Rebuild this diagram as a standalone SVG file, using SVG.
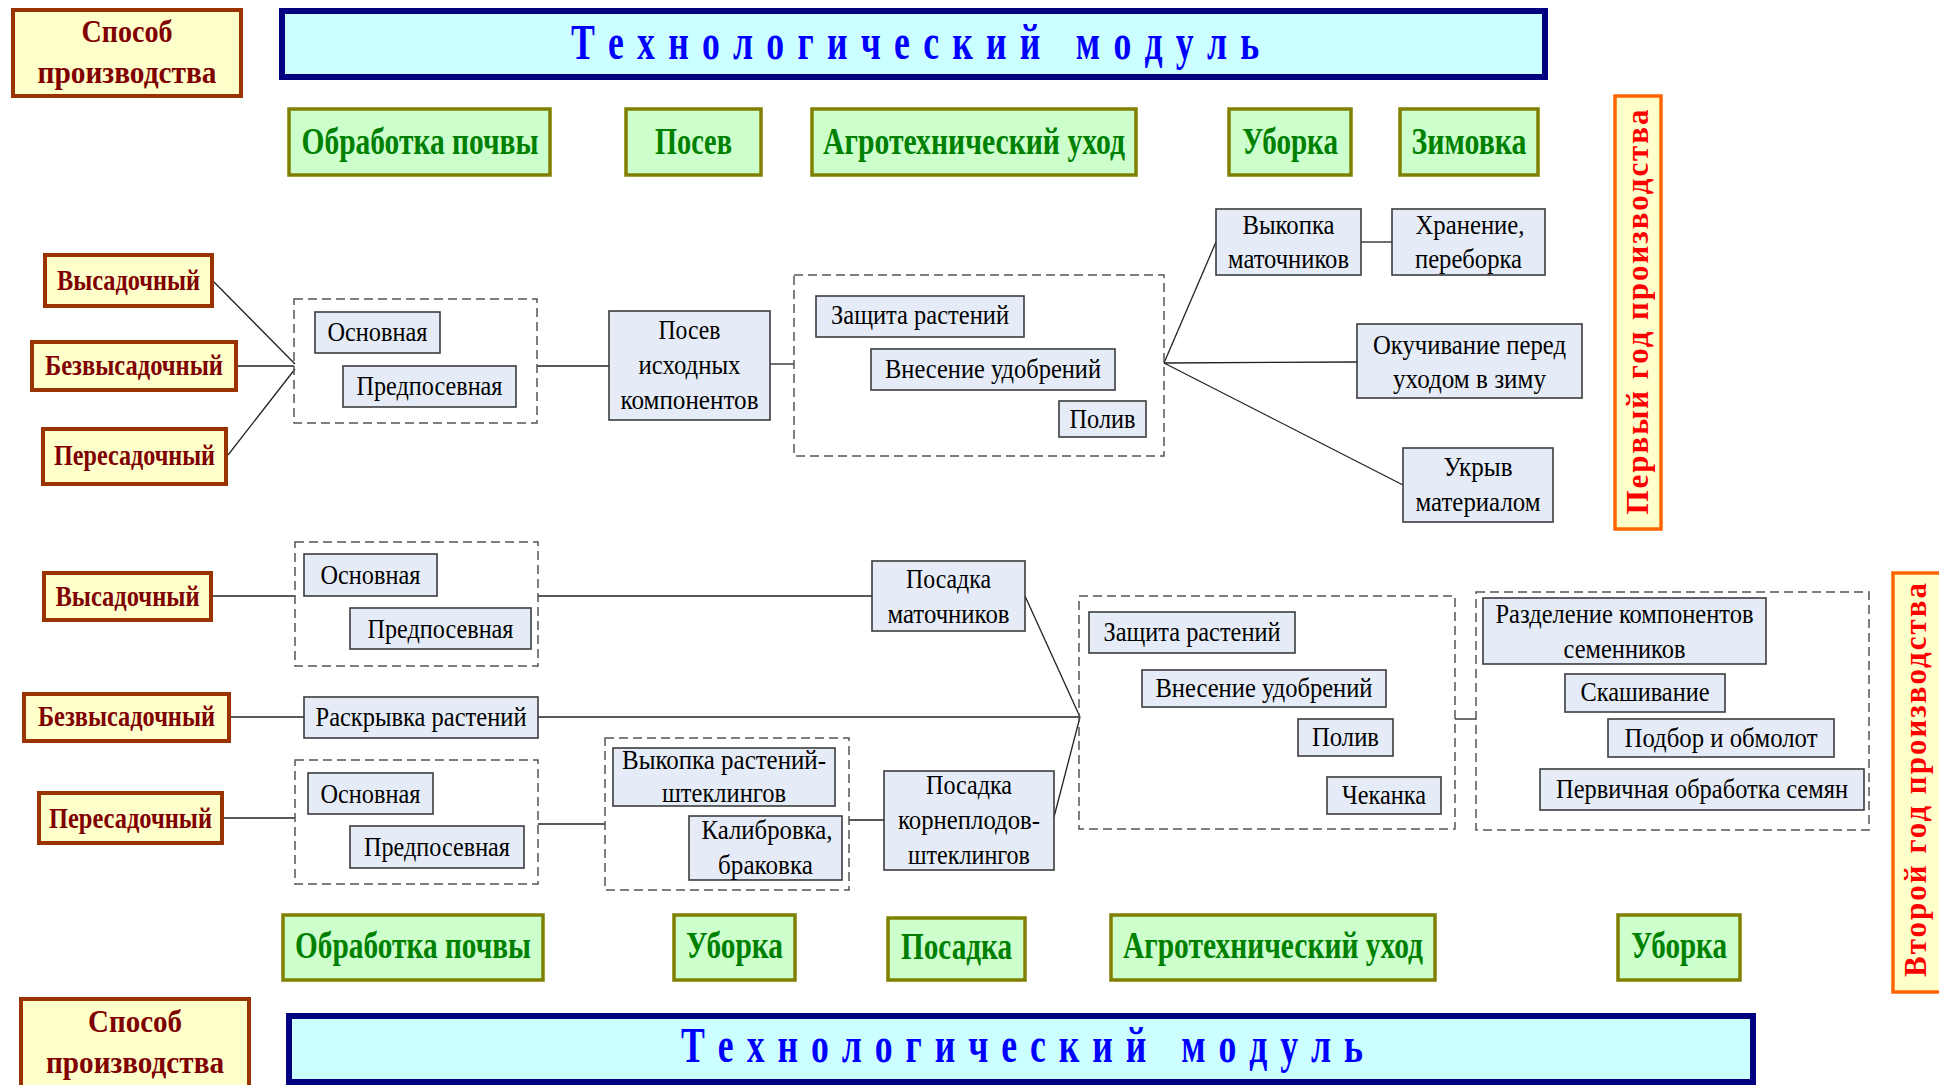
<svg xmlns="http://www.w3.org/2000/svg" width="1939" height="1085" viewBox="0 0 1939 1085">
<style>
.bg{fill:#FFFFFF}
.bb{fill:#FFFFCC;stroke:#993300;stroke-width:4}
.bt{font-family:"Liberation Serif",serif;font-weight:bold;font-size:29px;fill:#800000;text-anchor:middle}
.st{font-family:"Liberation Serif",serif;font-weight:bold;font-size:32px;fill:#800000;text-anchor:middle}
.ban{fill:#CCFFFF;stroke:#000080;stroke-width:6}
.bant{font-family:"Liberation Serif",serif;font-weight:bold;font-size:51px;fill:#0000FF;text-anchor:middle;white-space:pre}
.gb{fill:#CCFFCC;stroke:#808000;stroke-width:3.5}
.gt{font-family:"Liberation Serif",serif;font-weight:bold;font-size:38px;fill:#008000;text-anchor:middle}
.ob{fill:#FFFFCC;stroke:#FF6600;stroke-width:3.5}
.ot{font-family:"Liberation Serif",serif;font-weight:bold;font-size:31px;fill:#FF0000;text-anchor:middle}
.pb{fill:#E6ECF7;stroke:#3C3C3C;stroke-width:1.6}
.pt{font-family:"Liberation Serif",serif;font-size:27.5px;fill:#000000;text-anchor:middle}
.db{fill:none;stroke:#555555;stroke-width:1.5;stroke-dasharray:9 5}
.cn{fill:none;stroke:#222222;stroke-width:1.3}
</style>
<rect class="bg" x="0" y="0" width="1939" height="1085"/>

<g id="connectors">
<line class="cn" x1="214" y1="282" x2="295" y2="364"/>
<line class="cn" x1="238" y1="366" x2="294" y2="366"/>
<line class="cn" x1="228" y1="455" x2="295" y2="369"/>
<line class="cn" x1="537" y1="366" x2="609" y2="366"/>
<line class="cn" x1="770" y1="364" x2="794" y2="364"/>
<line class="cn" x1="1164" y1="363" x2="1216" y2="242"/>
<line class="cn" x1="1164" y1="363" x2="1357" y2="362"/>
<line class="cn" x1="1164" y1="363" x2="1403" y2="485"/>
<line class="cn" x1="1361" y1="242" x2="1392" y2="242"/>
<line class="cn" x1="213" y1="596" x2="295" y2="596"/>
<line class="cn" x1="538" y1="596" x2="872" y2="596"/>
<line class="cn" x1="231" y1="717" x2="304" y2="717"/>
<line class="cn" x1="538" y1="717" x2="1080" y2="717"/>
<line class="cn" x1="224" y1="818" x2="295" y2="818"/>
<line class="cn" x1="538" y1="824" x2="605" y2="824"/>
<line class="cn" x1="849" y1="820" x2="884" y2="820"/>
<line class="cn" x1="1025" y1="596" x2="1080" y2="717"/>
<line class="cn" x1="1054" y1="817" x2="1080" y2="717"/>
<line class="cn" x1="1455" y1="719" x2="1476" y2="719"/>
</g>

<g id="sposob-top">
<rect class="bb" x="13" y="10" width="228" height="86"/>
<text class="st" x="127" y="42" textLength="91" lengthAdjust="spacingAndGlyphs">Способ</text>
<text class="st" x="127" y="83" textLength="179" lengthAdjust="spacingAndGlyphs">производства</text>
</g>
<g id="banner-top">
<rect class="ban" x="282" y="11" width="1263" height="66"/>
<text class="bant" transform="translate(915,59) scale(0.7,1)" x="0" y="0" textLength="983" lengthAdjust="spacing">Т е х н о л о г и ч е с к и й   м о д у л ь</text>
</g>

<g id="g-obrabotka1"><rect class="gb" x="289" y="109" width="261" height="66"/><text class="gt" x="420" y="154" textLength="237" lengthAdjust="spacingAndGlyphs">Обработка почвы</text></g>
<g id="g-posev1"><rect class="gb" x="626" y="109" width="135" height="66"/><text class="gt" x="693.5" y="154" textLength="77" lengthAdjust="spacingAndGlyphs">Посев</text></g>
<g id="g-agro1"><rect class="gb" x="812" y="109" width="324" height="66"/><text class="gt" x="974" y="154" textLength="302" lengthAdjust="spacingAndGlyphs">Агротехнический уход</text></g>
<g id="g-uborka1"><rect class="gb" x="1229" y="109" width="122" height="66"/><text class="gt" x="1290" y="154" textLength="96" lengthAdjust="spacingAndGlyphs">Уборка</text></g>
<g id="g-zimovka1"><rect class="gb" x="1400" y="109" width="138" height="66"/><text class="gt" x="1469" y="154" textLength="115" lengthAdjust="spacingAndGlyphs">Зимовка</text></g>

<g id="year1"><rect class="ob" x="1615" y="96" width="46" height="433"/><text class="ot" transform="translate(1648,312) rotate(-90)" x="0" y="0" textLength="405" lengthAdjust="spacing">Первый год производства</text></g>

<g id="vysad1"><rect class="bb" x="45" y="255" width="167" height="51"/><text class="bt" x="128.5" y="290" textLength="143" lengthAdjust="spacingAndGlyphs">Высадочный</text></g>
<g id="bezvysad1"><rect class="bb" x="32" y="342" width="204" height="48"/><text class="bt" x="134" y="375" textLength="178" lengthAdjust="spacingAndGlyphs">Безвысадочный</text></g>
<g id="peresad1"><rect class="bb" x="43" y="429" width="183" height="55"/><text class="bt" x="134.5" y="465" textLength="161" lengthAdjust="spacingAndGlyphs">Пересадочный</text></g>

<g id="soil1"><rect class="db" x="294" y="299" width="243" height="124"/></g>
<g id="osnov1"><rect class="pb" x="315" y="312" width="125" height="41"/><text class="pt" x="377.5" y="341" textLength="100" lengthAdjust="spacingAndGlyphs">Основная</text></g>
<g id="predpos1"><rect class="pb" x="343" y="366" width="173" height="41"/><text class="pt" x="429.5" y="395" textLength="146" lengthAdjust="spacingAndGlyphs">Предпосевная</text></g>
<g id="posev-ish"><rect class="pb" x="609" y="311" width="161" height="109"/>
<text class="pt" x="689.5" y="339" textLength="62" lengthAdjust="spacingAndGlyphs">Посев</text>
<text class="pt" x="689.5" y="374" textLength="102" lengthAdjust="spacingAndGlyphs">исходных</text>
<text class="pt" x="689.5" y="409" textLength="138" lengthAdjust="spacingAndGlyphs">компонентов</text></g>

<g id="agro1"><rect class="db" x="794" y="275" width="370" height="181"/></g>
<g id="zashch1"><rect class="pb" x="816" y="296" width="208" height="41"/><text class="pt" x="920" y="324" textLength="178" lengthAdjust="spacingAndGlyphs">Защита растений</text></g>
<g id="vnes1"><rect class="pb" x="871" y="349" width="244" height="41"/><text class="pt" x="993" y="378" textLength="216" lengthAdjust="spacingAndGlyphs">Внесение удобрений</text></g>
<g id="poliv1"><rect class="pb" x="1059" y="401" width="87" height="36"/><text class="pt" x="1102.5" y="428" textLength="66" lengthAdjust="spacingAndGlyphs">Полив</text></g>

<g id="vykopka-mat"><rect class="pb" x="1216" y="209" width="145" height="66"/>
<text class="pt" x="1288.5" y="234" textLength="92" lengthAdjust="spacingAndGlyphs">Выкопка</text>
<text class="pt" x="1288.5" y="268" textLength="121" lengthAdjust="spacingAndGlyphs">маточников</text></g>
<g id="hranenie"><rect class="pb" x="1392" y="209" width="153" height="66"/>
<text class="pt" x="1470" y="234" textLength="109" lengthAdjust="spacingAndGlyphs">Хранение,</text>
<text class="pt" x="1468.5" y="268" textLength="107" lengthAdjust="spacingAndGlyphs">переборка</text></g>
<g id="okuch"><rect class="pb" x="1357" y="324" width="225" height="74"/>
<text class="pt" x="1469.5" y="354" textLength="193" lengthAdjust="spacingAndGlyphs">Окучивание перед</text>
<text class="pt" x="1469.5" y="388" textLength="153" lengthAdjust="spacingAndGlyphs">уходом в зиму</text></g>
<g id="ukryv"><rect class="pb" x="1403" y="448" width="150" height="74"/>
<text class="pt" x="1478" y="476" textLength="69" lengthAdjust="spacingAndGlyphs">Укрыв</text>
<text class="pt" x="1478" y="511" textLength="125" lengthAdjust="spacingAndGlyphs">материалом</text></g>

<g id="vysad2"><rect class="bb" x="44" y="573" width="167" height="47"/><text class="bt" x="127.5" y="606" textLength="144" lengthAdjust="spacingAndGlyphs">Высадочный</text></g>
<g id="bezvysad2"><rect class="bb" x="24" y="694" width="205" height="47"/><text class="bt" x="126.5" y="726" textLength="177" lengthAdjust="spacingAndGlyphs">Безвысадочный</text></g>
<g id="peresad2"><rect class="bb" x="39" y="793" width="183" height="50"/><text class="bt" x="130.5" y="828" textLength="163" lengthAdjust="spacingAndGlyphs">Пересадочный</text></g>

<g id="soil2"><rect class="db" x="295" y="542" width="243" height="124"/></g>
<g id="osnov2"><rect class="pb" x="304" y="554" width="133" height="42"/><text class="pt" x="370.5" y="584" textLength="100" lengthAdjust="spacingAndGlyphs">Основная</text></g>
<g id="predpos2"><rect class="pb" x="350" y="608" width="181" height="41"/><text class="pt" x="440.5" y="638" textLength="146" lengthAdjust="spacingAndGlyphs">Предпосевная</text></g>
<g id="raskryvka"><rect class="pb" x="304" y="697" width="234" height="41"/><text class="pt" x="421" y="726" textLength="211" lengthAdjust="spacingAndGlyphs">Раскрывка растений</text></g>
<g id="soil3"><rect class="db" x="295" y="760" width="243" height="124"/></g>
<g id="osnov3"><rect class="pb" x="308" y="773" width="125" height="41"/><text class="pt" x="370.5" y="803" textLength="100" lengthAdjust="spacingAndGlyphs">Основная</text></g>
<g id="predpos3"><rect class="pb" x="350" y="826" width="174" height="42"/><text class="pt" x="437" y="856" textLength="146" lengthAdjust="spacingAndGlyphs">Предпосевная</text></g>

<g id="uborka-sht"><rect class="db" x="605" y="738" width="244" height="152"/></g>
<g id="vykopka-sht"><rect class="pb" x="613" y="748" width="222" height="58"/>
<text class="pt" x="724" y="769" textLength="204" lengthAdjust="spacingAndGlyphs">Выкопка растений-</text>
<text class="pt" x="724" y="802" textLength="124" lengthAdjust="spacingAndGlyphs">штеклингов</text></g>
<g id="kalibr"><rect class="pb" x="689" y="816" width="153" height="64"/>
<text class="pt" x="767" y="839" textLength="131" lengthAdjust="spacingAndGlyphs">Калибровка,</text>
<text class="pt" x="765.5" y="874" textLength="95" lengthAdjust="spacingAndGlyphs">браковка</text></g>

<g id="posadka-mat"><rect class="pb" x="872" y="561" width="153" height="70"/>
<text class="pt" x="948.5" y="588" textLength="85" lengthAdjust="spacingAndGlyphs">Посадка</text>
<text class="pt" x="948.5" y="623" textLength="122" lengthAdjust="spacingAndGlyphs">маточников</text></g>
<g id="posadka-korn"><rect class="pb" x="884" y="771" width="170" height="99"/>
<text class="pt" x="969" y="794" textLength="86" lengthAdjust="spacingAndGlyphs">Посадка</text>
<text class="pt" x="969" y="829" textLength="142" lengthAdjust="spacingAndGlyphs">корнеплодов-</text>
<text class="pt" x="969" y="864" textLength="122" lengthAdjust="spacingAndGlyphs">штеклингов</text></g>

<g id="agro2"><rect class="db" x="1079" y="596" width="376" height="233"/></g>
<g id="zashch2"><rect class="pb" x="1089" y="612" width="206" height="41"/><text class="pt" x="1192" y="641" textLength="177" lengthAdjust="spacingAndGlyphs">Защита растений</text></g>
<g id="vnes2"><rect class="pb" x="1142" y="670" width="244" height="37"/><text class="pt" x="1264" y="697" textLength="217" lengthAdjust="spacingAndGlyphs">Внесение удобрений</text></g>
<g id="poliv2"><rect class="pb" x="1298" y="719" width="95" height="37"/><text class="pt" x="1345.5" y="746" textLength="67" lengthAdjust="spacingAndGlyphs">Полив</text></g>
<g id="chekanka"><rect class="pb" x="1327" y="777" width="114" height="37"/><text class="pt" x="1384" y="804" textLength="84" lengthAdjust="spacingAndGlyphs">Чеканка</text></g>

<g id="uborka2"><rect class="db" x="1476" y="592" width="393" height="238"/></g>
<g id="razdel"><rect class="pb" x="1483" y="598" width="283" height="66"/>
<text class="pt" x="1624.5" y="623" textLength="258" lengthAdjust="spacingAndGlyphs">Разделение компонентов</text>
<text class="pt" x="1624.5" y="658" textLength="122" lengthAdjust="spacingAndGlyphs">семенников</text></g>
<g id="skash"><rect class="pb" x="1565" y="674" width="160" height="38"/><text class="pt" x="1645" y="701" textLength="129" lengthAdjust="spacingAndGlyphs">Скашивание</text></g>
<g id="podbor"><rect class="pb" x="1608" y="719" width="226" height="38"/><text class="pt" x="1721" y="747" textLength="193" lengthAdjust="spacingAndGlyphs">Подбор и обмолот</text></g>
<g id="pervich"><rect class="pb" x="1540" y="769" width="324" height="41"/><text class="pt" x="1702" y="798" textLength="292" lengthAdjust="spacingAndGlyphs">Первичная обработка семян</text></g>

<g id="year2"><rect class="ob" x="1893" y="573" width="56" height="419"/><text class="ot" transform="translate(1926,780) rotate(-90)" x="0" y="0" textLength="394" lengthAdjust="spacing">Второй год производства</text></g>

<g id="g-obrabotka2"><rect class="gb" x="283" y="915" width="260" height="65"/><text class="gt" x="413" y="958" textLength="236" lengthAdjust="spacingAndGlyphs">Обработка почвы</text></g>
<g id="g-uborka2a"><rect class="gb" x="674" y="915" width="121" height="65"/><text class="gt" x="734.5" y="958" textLength="97" lengthAdjust="spacingAndGlyphs">Уборка</text></g>
<g id="g-posadka"><rect class="gb" x="888" y="918" width="137" height="62"/><text class="gt" x="956.5" y="959" textLength="111" lengthAdjust="spacingAndGlyphs">Посадка</text></g>
<g id="g-agro2"><rect class="gb" x="1111" y="915" width="324" height="65"/><text class="gt" x="1273" y="958" textLength="300" lengthAdjust="spacingAndGlyphs">Агротехнический уход</text></g>
<g id="g-uborka2b"><rect class="gb" x="1618" y="915" width="122" height="65"/><text class="gt" x="1679" y="958" textLength="96" lengthAdjust="spacingAndGlyphs">Уборка</text></g>

<g id="sposob-bottom">
<rect class="bb" x="21" y="999" width="228" height="95"/>
<text class="st" x="135" y="1032" textLength="94" lengthAdjust="spacingAndGlyphs">Способ</text>
<text class="st" x="135" y="1073" textLength="178" lengthAdjust="spacingAndGlyphs">производства</text>
</g>
<g id="banner-bottom">
<rect class="ban" x="289" y="1016" width="1464" height="66"/>
<text class="bant" transform="translate(1022,1062) scale(0.7,1)" x="0" y="0" textLength="974" lengthAdjust="spacing">Т е х н о л о г и ч е с к и й   м о д у л ь</text>
</g>
</svg>
